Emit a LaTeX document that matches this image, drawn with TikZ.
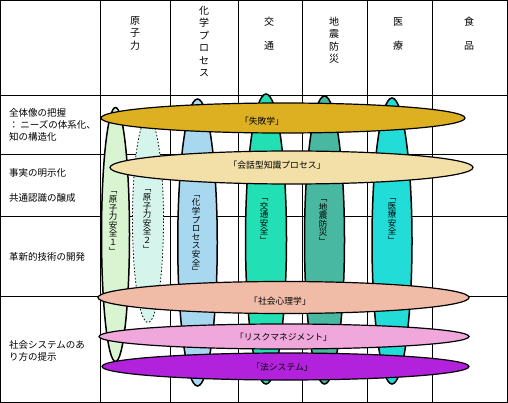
\documentclass[tikz,border=0pt]{standalone}
\usepackage{fontspec}
\setmainfont{Noto Sans CJK JP}
\usepackage{xcolor}
\usepackage{tikz}
\usetikzlibrary{shapes.geometric}
\definecolor{goldc}{HTML}{DCB020}
\definecolor{wheatc}{HTML}{F2E0A8}
\definecolor{salmc}{HTML}{F0BCA8}
\definecolor{pinkc}{HTML}{F0A8DC}
\definecolor{purpc}{HTML}{B222DC}
\definecolor{nucA}{HTML}{D8F4D0}
\definecolor{nucB}{HTML}{D4F4EC}
\definecolor{chemc}{HTML}{A8D8F0}
\definecolor{trafc}{HTML}{22E0B4}
\definecolor{quakc}{HTML}{48B8A0}
\definecolor{medc}{HTML}{22DCD8}
\tikzset{
  gl/.style={line width=0.8pt,black},
  hel/.style={ellipse,draw=black,line width=1.2pt,inner sep=0pt},
  vel/.style={ellipse,draw=black,line width=1.5pt,inner sep=0pt},
  vtx/.style={align=center,inner sep=0pt,font=\fontsize{8.5}{8.6}\selectfont},
  etx/.style={inner sep=0pt,font=\fontsize{8.8}{10}\selectfont},
  hd/.style={align=center,inner sep=0pt,font=\fontsize{10}{12.5}\selectfont},
  rw/.style={anchor=west,align=left,inner sep=0pt,font=\fontsize{9.5}{11.8}\selectfont}
}
\begin{document}
\begin{tikzpicture}[x=1pt,y=-1pt]
\useasboundingbox (0,0) rectangle (508,403);
% table
\draw[gl] (0.5,0.5) rectangle (507.5,402.5);
\draw[gl] (100.5,0.5)--(100.5,402.5) (170.5,0.5)--(170.5,402.5) (238.5,0.5)--(238.5,402.5)
  (302,0.5)--(302,402.5) (367,0.5)--(367,402.5) (432,0.5)--(432,402.5);
\draw[gl] (0.5,95.5)--(507.5,95.5) (0.5,154.5)--(507.5,154.5) (0.5,216)--(507.5,216) (0.5,296)--(507.5,296);
% column heads
\node[hd] (c1) at (135,33) {原\\子\\力};
\node[hd] (c2) at (204,41.3) {化\\学\\プ\\ロ\\セ\\ス};
\node[hd] (c3) at (269,33.7) {交\\[11.5pt]通};
\node[hd] (c4) at (334,40) {地\\震\\防\\災};
\node[hd] (c5) at (398,33.7) {医\\[11.5pt]療};
\node[hd] (c6) at (469,33.7) {食\\[11.5pt]品};
% row heads
\node[rw] (r1) at (9,125) {全体像の把握\\：\,ニーズの体系化、\\知の構造化};
\node[rw] (r2) at (9,172.7) {事実の明示化};
\node[rw] (r3) at (9,198) {共通認識の醸成};
\node[rw] (r4) at (9,256.7) {革新的技術の開発};
\node[rw] (r5) at (9,351) {社会システムのあ\\り方の提示};
% vertical fields
\node[vel,fill=nucA,minimum width=28pt,minimum height=254pt] (v1) at (115.5,234.5) {};
\node[vel,fill=nucB,dotted,line width=0.8pt,minimum width=31pt,minimum height=205pt] (v2) at (148,220) {};
\node[vel,fill=chemc,minimum width=39.5pt,minimum height=287pt] (v3) at (197.5,242.5) {};
\node[vel,fill=trafc,minimum width=41pt,minimum height=290pt] (v4) at (266,239) {};
\node[vel,fill=quakc,minimum width=40pt,minimum height=288pt] (v5) at (324.5,240) {};
\node[vel,fill=medc,minimum width=40pt,minimum height=286pt] (v6) at (392,241) {};
\node[vtx] (t1) at (113,223) {﹁\\原\\子\\力\\安\\全\\１\\﹂};
\node[vtx] (t2) at (147,221) {﹁\\原\\子\\力\\安\\全\\２\\﹂};
\node[vtx] (t3) at (196,235) {﹁\\化\\学\\プ\\ロ\\セ\\ス\\安\\全\\﹂};
\node[vtx] (t4) at (264,221) {﹁\\交\\通\\安\\全\\﹂};
\node[vtx] (t5) at (323,222) {﹁\\地\\震\\防\\災\\﹂};
\node[vtx] (t6) at (392,221) {﹁\\医\\療\\安\\全\\﹂};
% horizontal fields
\node[hel,fill=goldc,minimum width=364pt,minimum height=30pt] (h1) at (283,118) {};
\node[etx] (e1) at (262,121) {「失敗学」};
\node[hel,fill=wheatc,minimum width=363pt,minimum height=33pt] (h2) at (291.5,167.5) {};
\node[etx] (e2) at (277,165) {「会話型知識プロセス」};
\node[hel,fill=salmc,minimum width=371pt,minimum height=32pt] (h3) at (283.5,297.5) {};
\node[etx] (e3) at (280,301) {「社会心理学」};
\node[hel,fill=pinkc,minimum width=370pt,minimum height=25pt] (h4) at (284,336.5) {};
\node[etx] (e4) at (283.5,337) {「リスクマネジメント」};
\node[hel,fill=purpc,minimum width=367pt,minimum height=27pt] (h5) at (285.5,366.5) {};
\node[etx] (e5) at (282,367) {「法システム」};
\end{tikzpicture}
\end{document}
